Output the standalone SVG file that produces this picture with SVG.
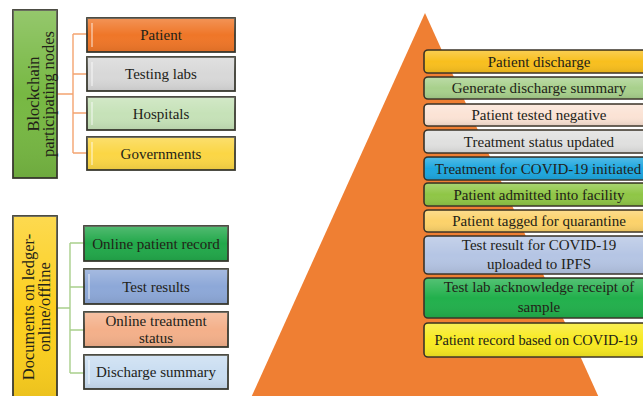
<svg xmlns="http://www.w3.org/2000/svg" width="643" height="396" viewBox="0 0 643 396">
  <defs>
    <linearGradient id="sheen" x1="0" y1="0" x2="0" y2="1">
      <stop offset="0" stop-color="#ffffff" stop-opacity="0.22"/>
      <stop offset="0.5" stop-color="#ffffff" stop-opacity="0"/>
      <stop offset="1" stop-color="#000000" stop-opacity="0.08"/>
    </linearGradient>
    <style>
      .lbl { font-family: "Liberation Serif", "Times New Roman", serif; font-size: 15px; fill: #222218; text-anchor: middle; }
      .vlbl { font-family: "Liberation Serif", "Times New Roman", serif; font-size: 16.5px; fill: #222218; text-anchor: middle; }
      .box { stroke: #3a3a30; stroke-width: 1.8; }
      .step { stroke: #3a3328; stroke-width: 1.6; }
      .shade { fill: url(#sheen); stroke: none; }
      .hl { stroke: #ffffff; stroke-opacity: 0.55; stroke-width: 1.5; }
      .link-o { fill: none; stroke: #f4a470; stroke-width: 1.4; }
      .link-g { fill: none; stroke: #a9cf8c; stroke-width: 1.4; }
    </style>
  </defs>
  <rect width="643" height="396" fill="#ffffff"/>

  <!-- Pyramid backdrop -->
  <polygon id="pyramid" points="425,13 250,400 600,400" fill="#ef7f33"/>

  <!-- Connectors -->
  <g id="connectors">
    <path class="link-o" d="M57,94 H73 M73,34 V153 M73,34 H87 M73,74 H87 M73,113 H87 M73,153 H87"/>
    <path class="link-g" d="M57,308 H70 M70,243 V373 M70,243 H84 M70,287 H84 M70,330 H84 M70,373 H84"/>
  </g>

  <!-- Blockchain participating nodes -->
  <g id="participants-head">
    <rect class="box" x="13" y="10" width="44" height="168" fill="#77b843"/>
    <rect class="shade" x="13" y="10" width="44" height="168"/>
    <text class="vlbl" transform="translate(35,94) rotate(-90)"><tspan x="0" y="4">Blockchain</tspan><tspan x="0" y="19">participating nodes</tspan></text>
  </g>
  <g id="node-patient">
    <rect class="box" x="87" y="18" width="148" height="34" fill="#ef7628"/>
    <rect class="shade" x="87" y="18" width="148" height="34"/>
    <line class="hl" x1="92" y1="23" x2="92" y2="47"/>
    <text class="lbl" x="161" y="40">Patient</text>
  </g>
  <g id="node-testing-labs">
    <rect class="box" x="87" y="57" width="148" height="34" fill="#d8d8d8"/>
    <rect class="shade" x="87" y="57" width="148" height="34"/>
    <line class="hl" x1="92" y1="62" x2="92" y2="86"/>
    <text class="lbl" x="161" y="79">Testing labs</text>
  </g>
  <g id="node-hospitals">
    <rect class="box" x="87" y="97" width="148" height="33" fill="#c6e2b8"/>
    <rect class="shade" x="87" y="97" width="148" height="33"/>
    <line class="hl" x1="92" y1="102" x2="92" y2="125"/>
    <text class="lbl" x="161" y="118.5">Hospitals</text>
  </g>
  <g id="node-governments">
    <rect class="box" x="87" y="137" width="148" height="33" fill="#fbd645"/>
    <rect class="shade" x="87" y="137" width="148" height="33"/>
    <line class="hl" x1="92" y1="142" x2="92" y2="165"/>
    <text class="lbl" x="161" y="158.5">Governments</text>
  </g>

  <!-- Documents on ledger -->
  <g id="documents-head">
    <rect class="box" x="13" y="216" width="44" height="190" fill="#fccf1e"/>
    <rect class="shade" x="13" y="216" width="44" height="190"/>
    <text class="vlbl" transform="translate(35,307) rotate(-90)"><tspan x="0" y="-1">Documents on ledger-</tspan><tspan x="0" y="15">online/offline</tspan></text>
  </g>
  <g id="doc-online-record">
    <rect class="box" x="84" y="226" width="144" height="35" fill="#22a84a"/>
    <rect class="shade" x="84" y="226" width="144" height="35"/>
    <text class="lbl" x="156" y="248.5">Online patient record</text>
  </g>
  <g id="doc-test-results">
    <rect class="box" x="84" y="269" width="144" height="35" fill="#8da8d8"/>
    <rect class="shade" x="84" y="269" width="144" height="35"/>
    <line class="hl" x1="89" y1="274" x2="89" y2="299"/>
    <text class="lbl" x="156" y="291.5">Test results</text>
  </g>
  <g id="doc-treatment-status">
    <rect class="box" x="84" y="312" width="144" height="35" fill="#f4b08a"/>
    <rect class="shade" x="84" y="312" width="144" height="35"/>
    <text class="lbl" x="156" y="326">Online treatment</text>
    <text class="lbl" x="156" y="343">status</text>
  </g>
  <g id="doc-discharge-summary">
    <rect class="box" x="84" y="355" width="144" height="34" fill="#c9ddf1"/>
    <rect class="shade" x="84" y="355" width="144" height="34"/>
    <line class="hl" x1="89" y1="360" x2="89" y2="384"/>
    <text class="lbl" x="156" y="377">Discharge summary</text>
  </g>

  <!-- Process steps stacked on the pyramid -->
  <g id="step-10">
    <rect class="step" x="424" y="50" width="232" height="23" rx="4" fill="#f8bf1e"/>
    <rect class="shade" x="425" y="51" width="230" height="21" rx="3"/>
    <text class="lbl" x="539" y="66.5">Patient discharge</text>
  </g>
  <g id="step-9">
    <rect class="step" x="424" y="77" width="232" height="22" rx="4" fill="#a8d08c"/>
    <rect class="shade" x="425" y="78" width="230" height="20" rx="3"/>
    <text class="lbl" x="539" y="93">Generate discharge summary</text>
  </g>
  <g id="step-8">
    <rect class="step" x="424" y="104" width="232" height="22" rx="4" fill="#fbe3d5"/>
    <rect class="shade" x="425" y="105" width="230" height="20" rx="3"/>
    <text class="lbl" x="539" y="120">Patient tested negative</text>
  </g>
  <g id="step-7">
    <rect class="step" x="424" y="130" width="232" height="23" rx="4" fill="#e0e0df"/>
    <rect class="shade" x="425" y="131" width="230" height="21" rx="3"/>
    <text class="lbl" x="539" y="146.5">Treatment status updated</text>
  </g>
  <g id="step-6">
    <rect class="step" x="424" y="157" width="232" height="23" rx="4" fill="#1ea7df"/>
    <rect class="shade" x="425" y="158" width="230" height="21" rx="3"/>
    <text class="lbl" x="538" y="173.5">Treatment for COVID-19 initiated</text>
  </g>
  <g id="step-5">
    <rect class="step" x="424" y="183" width="232" height="23" rx="4" fill="#8fc646"/>
    <rect class="shade" x="425" y="184" width="230" height="21" rx="3"/>
    <text class="lbl" x="539" y="199.5">Patient admitted into facility</text>
  </g>
  <g id="step-4">
    <rect class="step" x="424" y="210" width="232" height="22" rx="4" fill="#fcd26a"/>
    <rect class="shade" x="425" y="211" width="230" height="20" rx="3"/>
    <text class="lbl" x="539" y="226">Patient tagged for quarantine</text>
  </g>
  <g id="step-3">
    <rect class="step" x="424" y="236" width="232" height="38" rx="4" fill="#b5c5e4"/>
    <rect class="shade" x="425" y="237" width="230" height="36" rx="3"/>
    <text class="lbl" x="539" y="250">Test result for COVID-19</text>
    <text class="lbl" x="539" y="269">uploaded to IPFS</text>
  </g>
  <g id="step-2">
    <rect class="step" x="424" y="278" width="232" height="40" rx="4" fill="#22b04c"/>
    <rect class="shade" x="425" y="279" width="230" height="38" rx="3"/>
    <text class="lbl" x="539" y="292">Test lab acknowledge receipt of</text>
    <text class="lbl" x="539" y="312">sample</text>
  </g>
  <g id="step-1">
    <rect class="step" x="424" y="323" width="232" height="34" rx="4" fill="#f8ea22"/>
    <rect class="shade" x="425" y="324" width="230" height="32" rx="3"/>
    <text class="lbl" x="536" y="344.5" style="font-size:14.4px">Patient record based on COVID-19</text>
  </g>
</svg>
